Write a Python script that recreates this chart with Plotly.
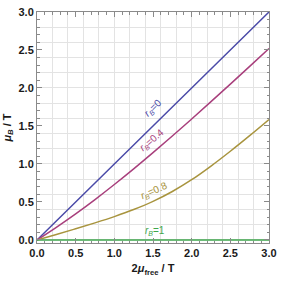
import plotly.graph_objects as go

# data
x_vals = [0.0, 0.25, 0.5, 0.75, 1.0, 1.25, 1.5, 1.75, 2.0, 2.25, 2.5, 2.75, 3.0]
mu_r0 = [0.0, 0.25, 0.5, 0.75, 1.0, 1.25, 1.5, 1.75, 2.0, 2.25, 2.5, 2.75, 3.0]
mu_r04 = [0.0, 0.167, 0.344, 0.532, 0.730, 0.936, 1.149, 1.368, 1.592, 1.820, 2.051, 2.284, 2.519]
mu_r08 = [0.0, 0.0725, 0.1475, 0.225, 0.3075, 0.40, 0.5075, 0.6375, 0.7925, 0.9725, 1.1675, 1.3725, 1.585]
mu_r1 = [0.0] * 13

series_names = ["r_B=0", "r_B=0.4", "r_B=0.8", "r_B=1"]
label_text = ["<i>r</i><sub><i>B</i></sub>=0", "<i>r</i><sub><i>B</i></sub>=0.4",
              "<i>r</i><sub><i>B</i></sub>=0.8", "<i>r</i><sub><i>B</i></sub>=1"]
label_x = [1.50, 1.49, 1.51, 1.53]
label_y = [1.74, 1.31, 0.645, 0.12]
label_angle = [-44, -40, -24, 0]
colors = ["#4B4BA8", "#A83F7C", "#A8943E", "#3EA64C"]

fig = go.Figure()
for ys, name, c in zip([mu_r0, mu_r04, mu_r08, mu_r1], series_names, colors):
    fig.add_trace(go.Scatter(x=x_vals, y=ys, mode="lines", name=name,
                             line=dict(color=c, width=1.5, shape="spline"),
                             showlegend=False))

# invisible trace on overlay axes to carry the 0.2 grid
fig.add_trace(go.Scatter(x=[0, 3], y=[0, 3], xaxis="x2", yaxis="y2", mode="lines",
                         line=dict(width=0), showlegend=False, hoverinfo="skip"))

for t, lx, ly, a, c in zip(label_text, label_x, label_y, label_angle, colors):
    fig.add_annotation(x=lx, y=ly, text=t, textangle=a, showarrow=False,
                       font=dict(family="Liberation Sans, Arial", size=10, color=c))

tfont = dict(family="Liberation Sans, Arial", size=11, color="#1a1a1a", weight="bold")

def axis_common(rng):
    return dict(
        range=rng, dtick=0.5, tick0=0, showgrid=False, zeroline=False,
        showline=True, linecolor="#8a8a8a", linewidth=1, mirror="allticks",
        ticks="inside", ticklen=5, tickcolor="#8a8a8a", tickformat=".1f",
        tickfont=tfont, ticklabeloverflow="allow",
        minor=dict(dtick=0.1, ticks="inside", ticklen=2.5, tickcolor="#8a8a8a", showgrid=False),
    )

def grid_common(rng):
    return dict(range=rng, dtick=0.2, tick0=0, showgrid=True, gridcolor="#e3e3e3",
                gridwidth=1, showticklabels=False, ticks="", showline=False, zeroline=False)

xr = [0, 3]
yr = [-0.04, 3]

fig.update_layout(
    width=283, height=281,
    margin=dict(l=37, r=8, t=6, b=38),
    plot_bgcolor="white", paper_bgcolor="white",
    xaxis=dict(**axis_common(xr),
               title=dict(text="2<i>μ</i><sub>free</sub> / T", standoff=6, font=tfont)),
    yaxis=dict(**axis_common(yr),
               title=dict(text="<i>μ</i><sub><i>B</i></sub> / T", standoff=4, font=tfont)),
    xaxis2=dict(**grid_common(xr), overlaying="x", anchor="y2"),
    yaxis2=dict(**grid_common(yr), overlaying="y", anchor="x2"),
)

fig.write_html("out.html", config={"displayModeBar": False},
               post_script="document.body.style.margin='0';document.body.style.padding='0';")
